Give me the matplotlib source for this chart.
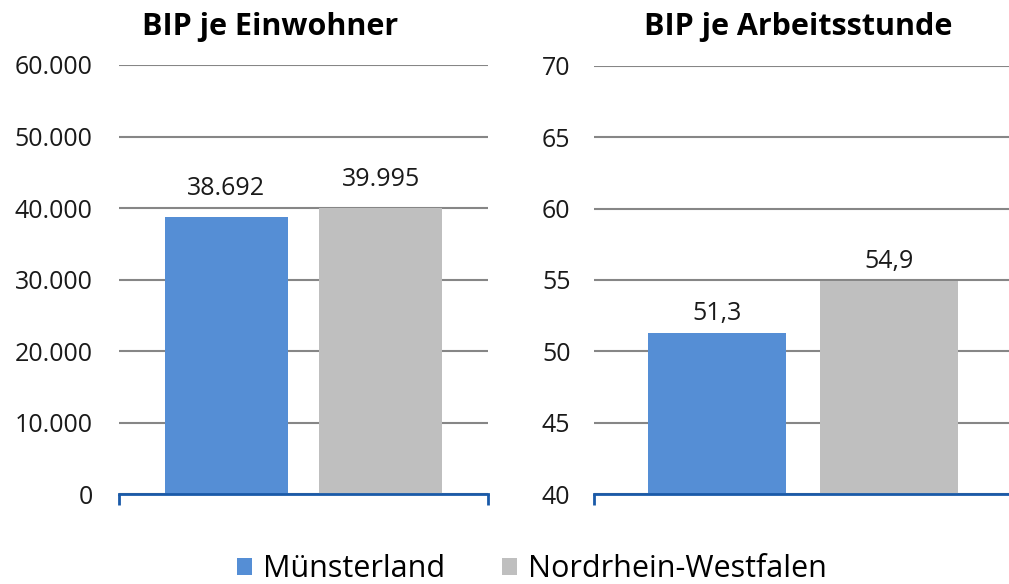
import matplotlib.pyplot as plt
from matplotlib.patches import Patch

plt.rcParams['font.family'] = ['Open Sans', 'DejaVu Sans']

regions = ["Münsterland", "Nordrhein-Westfalen"]
colors = ["#558ed5", "#bfbfbf"]

bip_einwohner = [38692, 39995]
bip_einwohner_labels = ["38.692", "39.995"]
bip_einwohner_ticks = [0, 10000, 20000, 30000, 40000, 50000, 60000]
bip_einwohner_ticklabels = ["0", "10.000", "20.000", "30.000", "40.000", "50.000", "60.000"]

bip_stunde = [51.3, 54.9]
bip_stunde_labels = ["51,3", "54,9"]
bip_stunde_ticks = [40, 45, 50, 55, 60, 65, 70]
bip_stunde_ticklabels = ["40", "45", "50", "55", "60", "65", "70"]

spine_blue = "#1a5aa8"
grid_grey = "#868686"

fig = plt.figure(figsize=(10.09, 5.84), dpi=100)
ax1 = fig.add_axes([0.1179, 0.1541, 0.3657, 0.7346])
ax2 = fig.add_axes([0.5887, 0.1541, 0.4143, 0.7329])


def draw_panel(ax, values, labels, ticks, ticklabels, lo, hi, width, offset, lab_off, pad):
    ax.set_ylim(lo, hi)
    ax.set_xlim(-0.5, 0.5)
    xs = [-offset, offset]
    ax.bar(xs, [v - lo for v in values], bottom=lo, width=width, color=colors, zorder=3)
    for x, v, t in zip(xs, values, labels):
        ax.text(x, v + lab_off, t, ha="center", va="bottom", fontsize=18, color="#1a1a1a")
    ax.set_yticks(ticks)
    ax.set_yticklabels(ticklabels, fontsize=18, color="#1a1a1a")
    ax.tick_params(axis="y", length=0, pad=pad)
    ax.set_xticks([-0.5, 0.5])
    ax.set_xticklabels(["", ""])
    ax.tick_params(axis="x", direction="out", length=8, width=2, color=spine_blue)
    ax.yaxis.grid(True, color=grid_grey, linewidth=1.5, zorder=0)
    ax.set_axisbelow(True)
    for s in ("top", "right", "left"):
        ax.spines[s].set_visible(False)
    ax.spines["bottom"].set_color(spine_blue)
    ax.spines["bottom"].set_linewidth(2)
    ax.spines["bottom"].set_zorder(4)


draw_panel(ax1, bip_einwohner, bip_einwohner_labels, bip_einwohner_ticks,
           bip_einwohner_ticklabels, 0, 60000, 0.333, 0.209, 2300, 19)
draw_panel(ax2, bip_stunde, bip_stunde_labels, bip_stunde_ticks,
           bip_stunde_ticklabels, 40, 70, 0.330, 0.206, 0.5, 17)

fig.text(270 / 1009, 1 - 27 / 584, "BIP je Einwohner", ha="center", va="center",
         fontsize=22, fontweight="bold")
fig.text(798 / 1009, 1 - 27 / 584, "BIP je Arbeitsstunde", ha="center", va="center",
         fontsize=22, fontweight="bold")

handles = [Patch(facecolor=c, edgecolor="none") for c in colors]
fig.legend(handles, regions, loc="center", bbox_to_anchor=(532 / 1009, 1 - 569 / 584),
           ncol=2, frameon=False, fontsize=22, handlelength=0.48, handleheight=0.48,
           handletextpad=0.36, columnspacing=1.87, borderpad=0, borderaxespad=0)

fig.savefig("out.png", dpi=100)
